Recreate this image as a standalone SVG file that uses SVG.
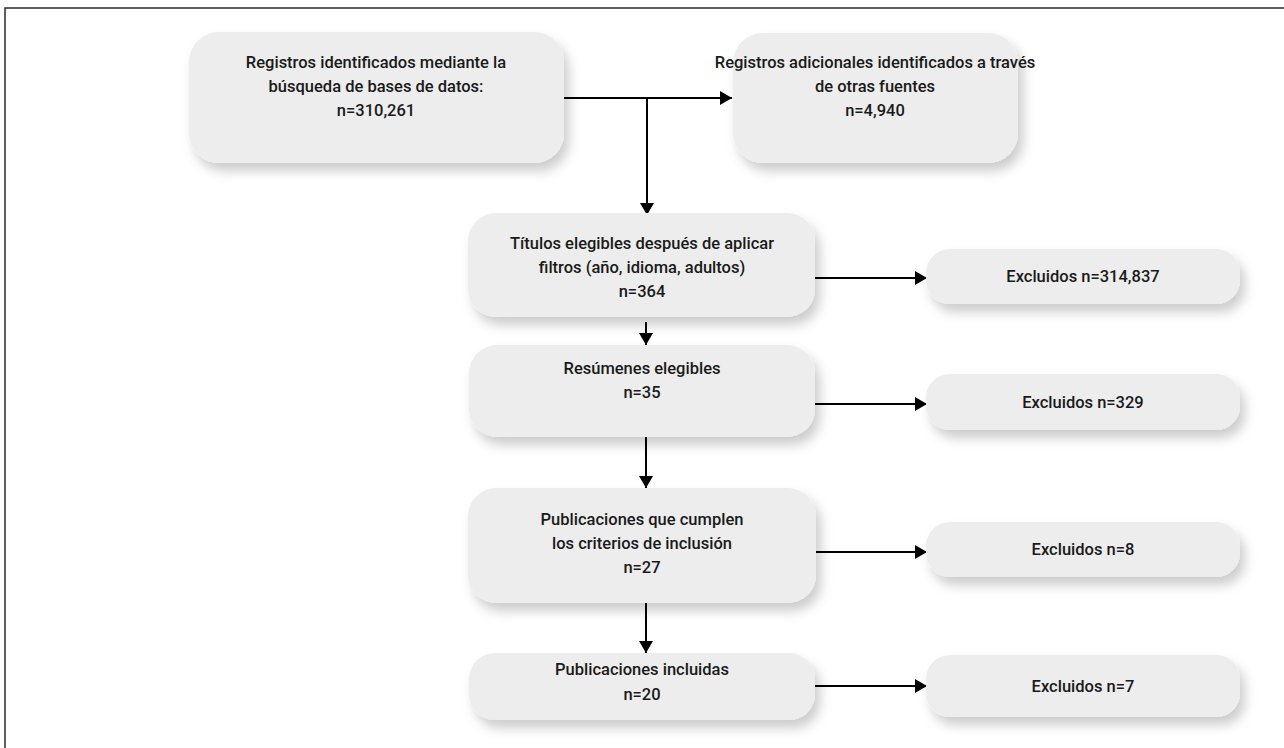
<svg xmlns="http://www.w3.org/2000/svg" width="1284" height="748" viewBox="0 0 1284 748">
<defs>
<filter id="sh" x="-20%" y="-30%" width="150%" height="180%">
<feDropShadow dx="5" dy="8" stdDeviation="6" flood-color="#000" flood-opacity="0.2"/>
</filter>
<marker id="ah" viewBox="0 0 12 14" refX="12" refY="7" markerWidth="12" markerHeight="14" markerUnits="userSpaceOnUse" orient="auto">
<path d="M0,0 L12,7 L0,14 z" fill="#000"/>
</marker>
</defs>
<style>
.box{fill:#ecedec;filter:url(#sh);}
.t{font-family:Roboto,"Liberation Sans",Arial,sans-serif;font-weight:500;font-size:16.5px;fill:#1a1a1a;text-anchor:middle;dominant-baseline:central;}
.c{stroke:#000;stroke-width:2;fill:none;}
</style>
<rect x="5" y="8" width="1300" height="760" fill="#fff" stroke="#2a2a2a" stroke-width="1.5"/>
<g id="connectors">
<path class="c" d="M564,98 H732" marker-end="url(#ah)"/>
<path class="c" d="M647,98 V215" marker-end="url(#ah)"/>
<path class="c" d="M815,278 H927" marker-end="url(#ah)"/>
<path class="c" d="M646,322 V345" marker-end="url(#ah)"/>
<path class="c" d="M815,404 H927" marker-end="url(#ah)"/>
<path class="c" d="M646,437 V488" marker-end="url(#ah)"/>
<path class="c" d="M815,552 H927" marker-end="url(#ah)"/>
<path class="c" d="M646,603 V653" marker-end="url(#ah)"/>
<path class="c" d="M815,686 H927" marker-end="url(#ah)"/>
</g>
<g id="n1"><rect class="box" x="189" y="32" width="375" height="131" rx="30"/>
<text class="t" x="376" y="62">Registros identificados mediante la</text>
<text class="t" x="376" y="86">búsqueda de bases de datos:</text>
<text class="t" x="376" y="110">n=310,261</text></g>
<g id="n2"><rect class="box" x="733" y="33" width="285" height="130" rx="30"/>
<text class="t" x="875" y="62">Registros adicionales identificados a través</text>
<text class="t" x="875" y="86">de otras fuentes</text>
<text class="t" x="875" y="110">n=4,940</text></g>
<g id="n3"><rect class="box" x="468" y="213" width="347" height="104" rx="28"/>
<text class="t" x="642" y="243">Títulos elegibles después de aplicar</text>
<text class="t" x="642" y="267">filtros (año, idioma, adultos)</text>
<text class="t" x="642" y="291">n=364</text></g>
<g id="e1"><rect class="box" x="926" y="249" width="314" height="55" rx="24"/>
<text class="t" x="1083" y="276">Excluidos n=314,837</text></g>
<g id="n4"><rect class="box" x="469" y="345" width="346" height="92" rx="28"/>
<text class="t" x="642" y="368">Resúmenes elegibles</text>
<text class="t" x="642" y="392">n=35</text></g>
<g id="e2"><rect class="box" x="926" y="374" width="314" height="56" rx="24"/>
<text class="t" x="1083" y="402">Excluidos n=329</text></g>
<g id="n5"><rect class="box" x="468" y="488" width="348" height="115" rx="28"/>
<text class="t" x="642" y="519">Publicaciones que cumplen</text>
<text class="t" x="642" y="543">los criterios de inclusión</text>
<text class="t" x="642" y="567">n=27</text></g>
<g id="e3"><rect class="box" x="926" y="522" width="314" height="55" rx="24"/>
<text class="t" x="1083" y="549">Excluidos n=8</text></g>
<g id="n6"><rect class="box" x="469" y="653" width="346" height="67" rx="26"/>
<text class="t" x="642" y="669">Publicaciones incluidas</text>
<text class="t" x="642" y="694">n=20</text></g>
<g id="e4"><rect class="box" x="926" y="655" width="314" height="62" rx="24"/>
<text class="t" x="1083" y="686">Excluidos n=7</text></g>
</svg>
